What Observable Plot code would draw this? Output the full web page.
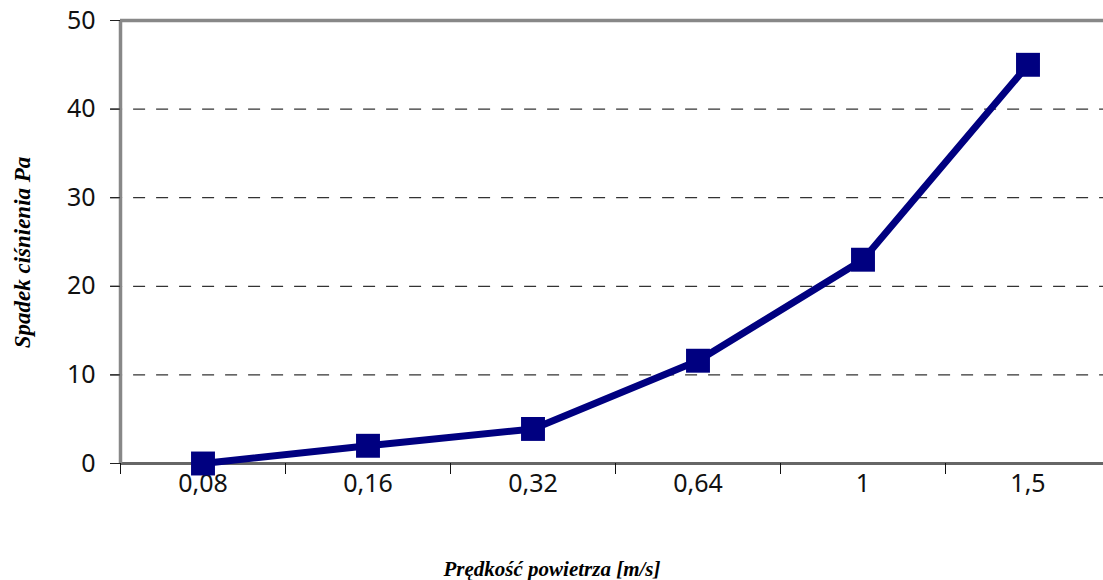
<!DOCTYPE html>
<html>
<head>
<meta charset="utf-8">
<script src="https://cdn.jsdelivr.net/npm/d3@7"></script>
<script src="https://cdn.jsdelivr.net/npm/@observablehq/plot@0.6"></script>
<style>
  html, body { margin: 0; padding: 0; background: #fff; }
  #chart svg { display: block; overflow: visible; }
</style>
</head>
<body>
<div id="chart"></div>
<script>
const categories = ["0,08", "0,16", "0,32", "0,64", "1", "1,5"];
const values = [0, 2, 3.9, 11.6, 23, 45];
const yTicks = [0, 10, 20, 30, 40, 50];
const gridTicks = [10, 20, 30, 40];
const xTitle = "Prędkość powietrza [m/s]";
const yTitle = "Spadek ciśnienia Pa";

const data = categories.map((c, i) => ({ idx: i + 0.5, label: c, value: values[i] }));
const boundaries = d3.range(categories.length + 1);

const tickFont = "'Noto Sans', 'DejaVu Sans', sans-serif";
const titleFont = "'Liberation Serif', 'Times New Roman', serif";

const chart = Plot.plot({
  width: 1103,
  height: 580,
  marginLeft: 120,
  marginRight: 0,
  marginTop: 20,
  marginBottom: 117,
  style: { fontFamily: tickFont, background: "#fff", overflow: "visible" },
  x: { type: "linear", domain: [0, categories.length], range: [120, 1110] },
  y: { domain: [0, 50], range: [463, 20] },
  marks: [
    Plot.ruleY(gridTicks, { y: d => d, x1: -0.06, x2: categories.length, stroke: "#333", strokeWidth: 1.2, strokeDasharray: "12,11" }),
    Plot.ruleY([50], { stroke: "#888", strokeWidth: 3.5, x1: 0, x2: categories.length }),
    Plot.ruleY([0], { stroke: "#666", strokeWidth: 3, x1: 0, x2: categories.length }),
    Plot.ruleX([0], { stroke: "#888", strokeWidth: 3.5, y1: 0, y2: 50 }),
    Plot.axisY({ ticks: yTicks, tickSize: 10, tickPadding: 15, tickFormat: d => String(d), fontSize: 25, stroke: "#222", label: null, color: "#111" }),
    Plot.axisX({ ticks: boundaries, tickSize: 11, tickFormat: () => "", stroke: "#111", label: null }),
    Plot.axisX({ ticks: data.map(d => d.idx), tickSize: 0, tickPadding: 11, tickFormat: (d, i) => categories[i], fontSize: 25, label: null, color: "#111" }),
    Plot.line(data, { x: "idx", y: "value", stroke: "#000080", strokeWidth: 7 }),
    Plot.dot(data, { x: "idx", y: "value", symbol: "square", r: 13.5, fill: "#000080", stroke: "none" }),
    Plot.text([xTitle], { frameAnchor: "bottom", text: d => d, textAnchor: "middle", lineAnchor: "middle", dx: -60, dy: 106, fontSize: 21, fontWeight: "bold", fontStyle: "italic", fontFamily: titleFont, fill: "#000" }),
    Plot.text([yTitle], { ariaLabel: "y-title", frameAnchor: "left", text: d => d, textAnchor: "middle", lineAnchor: "middle", rotate: -90, dx: -98, dy: 10.5, fontSize: 23, fontWeight: "bold", fontStyle: "italic", fontFamily: titleFont, fill: "#000" })
  ]
});
d3.select(chart).selectAll('g[aria-label="y-title"] text')
  .attr("letter-spacing", "1.5px")
  .attr("word-spacing", "10px")
  .style("letter-spacing", "1.5px")
  .style("word-spacing", "10px");
document.getElementById("chart").appendChild(chart);
</script>
</body>
</html>
